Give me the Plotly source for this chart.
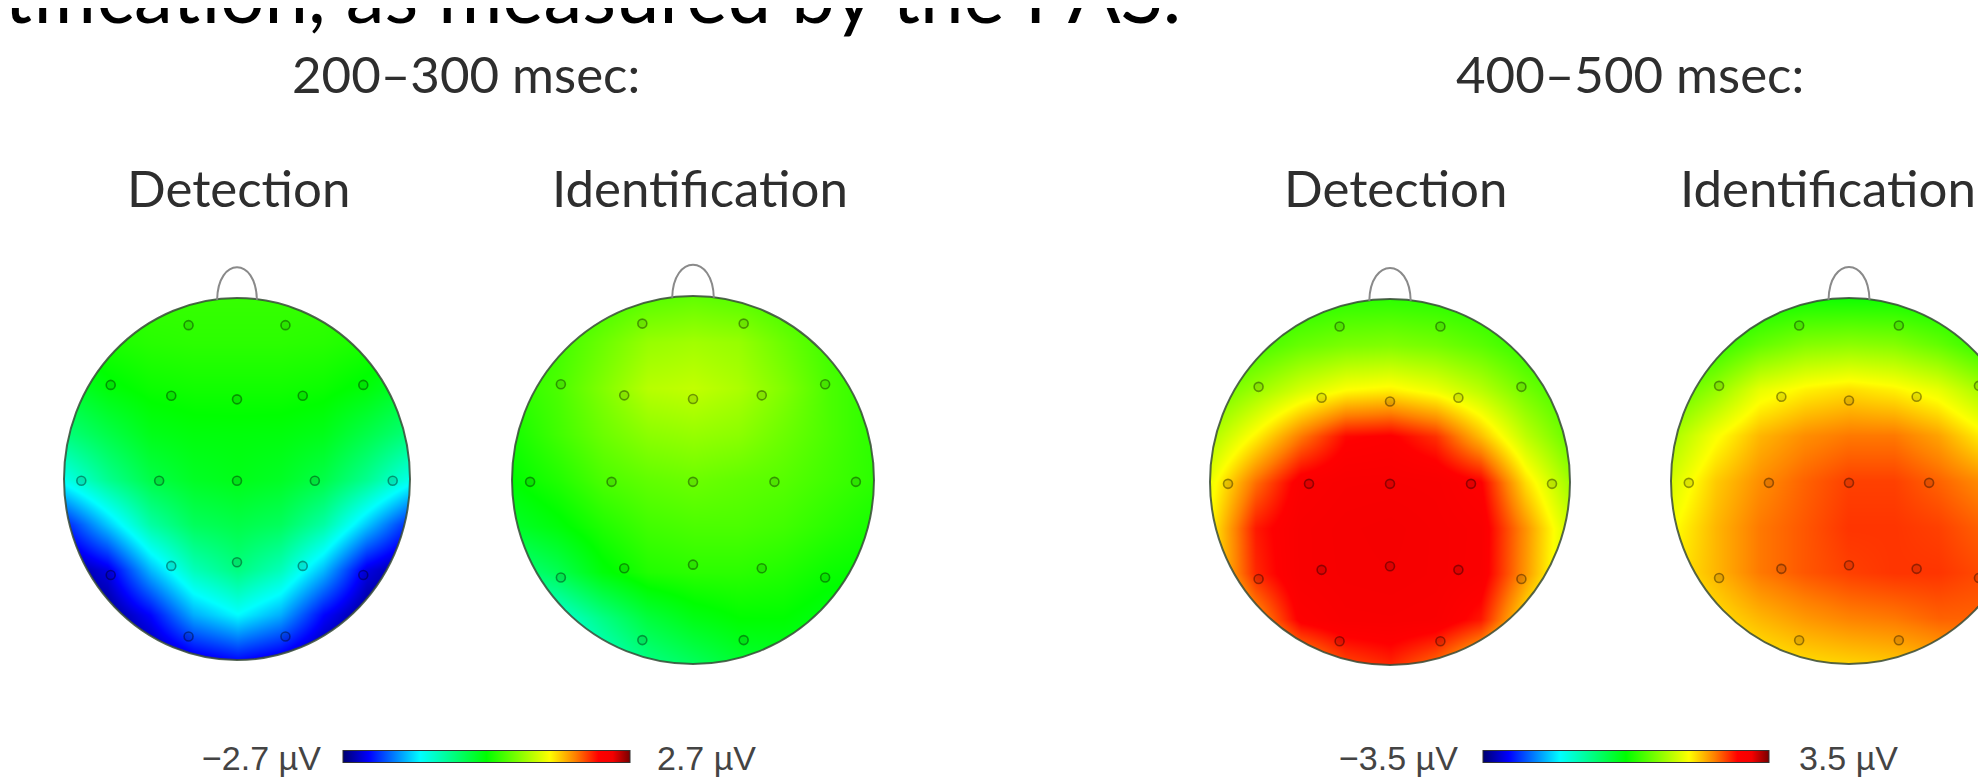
import math
import plotly.graph_objects as go

# ---------------- data ----------------
TITLE_TOP = "tification, as measured by the PAS."
WINDOWS = ["200–300 msec:", "400–500 msec:"]
CONDITIONS = ["Detection", "Identification"]
LIMITS = [2.7, 3.5]
CBAR_LABELS = [["−2.7 µV", "2.7 µV"], ["−3.5 µV", "3.5 µV"]]

# interpolation grid of the scalp map (head-normalised units), rows listed top -> bottom
GRID_X = [-1.0, -0.75, -0.5, -0.25, 0.0, 0.25, 0.5, 0.75, 1.0]
GRID_Y = [1.0, 0.75, 0.5, 0.25, 0.0, -0.25, -0.5, -0.75, -1.0]

# µV values, 200–300 msec, Detection
DET_200_300 = [
    [0.15, 0.20, 0.25, 0.25, 0.25, 0.25, 0.25, 0.20, 0.15],
    [0.05, 0.12, 0.18, 0.20, 0.20, 0.20, 0.18, 0.12, 0.05],
    [-0.25, -0.05, 0.05, 0.08, 0.08, 0.08, 0.05, -0.05, -0.25],
    [-0.60, -0.35, -0.12, -0.06, -0.05, -0.06, -0.12, -0.35, -0.60],
    [-1.15, -0.70, -0.35, -0.18, -0.12, -0.18, -0.35, -0.70, -1.15],
    [-2.10, -1.45, -0.80, -0.45, -0.35, -0.45, -0.80, -1.45, -2.10],
    [-2.60, -2.30, -1.50, -0.90, -0.62, -0.90, -1.50, -2.30, -2.60],
    [-2.70, -2.60, -2.20, -1.55, -1.25, -1.55, -2.20, -2.60, -2.70],
    [-2.70, -2.70, -2.60, -2.35, -2.20, -2.35, -2.60, -2.70, -2.70],
]
# µV values, 200–300 msec, Identification
IDE_200_300 = [
    [0.10, 0.20, 0.30, 0.40, 0.45, 0.40, 0.30, 0.20, 0.10],
    [0.15, 0.30, 0.50, 0.70, 0.75, 0.70, 0.50, 0.30, 0.15],
    [0.20, 0.35, 0.60, 0.85, 0.90, 0.80, 0.60, 0.35, 0.20],
    [0.10, 0.30, 0.50, 0.65, 0.70, 0.65, 0.50, 0.35, 0.20],
    [0.00, 0.15, 0.35, 0.45, 0.50, 0.45, 0.40, 0.30, 0.20],
    [-0.20, -0.05, 0.15, 0.30, 0.35, 0.35, 0.30, 0.20, 0.10],
    [-0.65, -0.40, -0.05, 0.15, 0.20, 0.20, 0.15, 0.05, 0.00],
    [-1.25, -1.05, -0.65, -0.30, -0.10, 0.00, 0.00, -0.10, -0.10],
    [-1.50, -1.35, -1.00, -0.65, -0.45, -0.25, -0.20, -0.20, -0.20],
]
# µV values, 400–500 msec, Detection
DET_400_500 = [
    [0.06, 0.12, 0.20, 0.27, 0.28, 0.25, 0.18, 0.10, 0.04],
    [0.22, 0.42, 0.63, 0.75, 0.79, 0.71, 0.55, 0.32, 0.16],
    [0.60, 0.95, 1.30, 1.55, 1.62, 1.45, 1.13, 0.70, 0.35],
    [1.05, 1.60, 2.20, 2.70, 2.76, 2.52, 1.87, 1.15, 0.60],
    [1.45, 2.25, 2.84, 2.93, 2.94, 2.92, 2.75, 1.70, 0.95],
    [1.60, 2.62, 2.92, 2.99, 3.02, 2.96, 2.88, 2.08, 1.21],
    [1.62, 2.56, 2.92, 2.98, 3.00, 2.96, 2.87, 2.05, 1.19],
    [1.40, 2.05, 2.79, 2.92, 2.93, 2.90, 2.63, 1.66, 1.00],
    [0.95, 1.45, 1.95, 2.41, 2.56, 2.25, 1.71, 1.17, 0.66],
]
# µV values, 400–500 msec, Identification
IDE_400_500 = [
    [0.00, 0.00, 0.05, 0.10, 0.10, 0.10, 0.05, 0.00, 0.00],
    [0.10, 0.30, 0.60, 0.80, 0.85, 0.80, 0.60, 0.30, 0.10],
    [0.50, 0.90, 1.40, 1.60, 1.70, 1.60, 1.40, 1.00, 0.60],
    [1.00, 1.50, 1.90, 2.10, 2.20, 2.20, 2.00, 1.60, 1.20],
    [1.30, 1.80, 2.10, 2.30, 2.45, 2.45, 2.30, 2.10, 1.70],
    [1.50, 1.90, 2.20, 2.35, 2.50, 2.50, 2.45, 2.30, 2.00],
    [1.60, 1.90, 2.20, 2.35, 2.45, 2.50, 2.50, 2.40, 2.20],
    [1.50, 1.70, 1.90, 2.05, 2.15, 2.20, 2.30, 2.30, 2.10],
    [1.40, 1.50, 1.60, 1.70, 1.75, 1.80, 1.90, 2.00, 2.00],
]
MAPS = [DET_200_300, IDE_200_300, DET_400_500, IDE_400_500]

# 10-20 electrode sites (head-normalised units)
ELECTRODES = ["Fp1", "Fp2", "F7", "F3", "Fz", "F4", "F8", "T7", "C3", "Cz", "C4", "T8",
              "P7", "P3", "Pz", "P4", "P8", "O1", "O2"]
ELEC_X = [-0.28, 0.28, -0.73, -0.38, 0.0, 0.38, 0.73, -0.90, -0.45, 0.0, 0.45, 0.90,
          -0.73, -0.38, 0.0, 0.38, 0.73, -0.28, 0.28]
ELEC_Y = [0.85, 0.85, 0.52, 0.46, 0.44, 0.46, 0.52, -0.01, -0.01, -0.01, -0.01, -0.01,
          -0.53, -0.48, -0.46, -0.48, -0.53, -0.87, -0.87]

# ---------------- layout geometry (pixels) ----------------
W, H = 1986, 784
HEAD_CX = [229, 685, 1382, 1841]
HEAD_CY = [471, 472, 474, 473]
HEAD_RX = [173, 181, 180, 178]
HEAD_RY = [181, 184, 183, 183]
COND_X = [230, 692, 1387, 1820]
WIN_X = [458, 1622]
CBAR_X = [478, 1618]
CBAR_LEN = [287, 286]
LAB_LEFT_R = [315, 1452]
LAB_RIGHT_L = [647, 1789]

COLORSCALE = [
    [0.00, "#000070"], [0.09, "#0000ff"], [0.27, "#00ffff"], [0.50, "#00ff00"],
    [0.72, "#ffff00"], [0.81, "#ff8000"], [0.89, "#ff0000"], [0.94, "#f40000"],
    [1.00, "#780000"],
]

fig = go.Figure()
shapes = []
annotations = []

# unit circle polygon (the head ellipse in head units) for the outside mask
n = 96
circle_pts = [(math.cos(2 * math.pi * k / n), math.sin(2 * math.pi * k / n)) for k in range(n)]
mask_path = "M -1.6,-1.6 L 1.6,-1.6 L 1.6,1.6 L -1.6,1.6 Z M " + " L ".join(
    f"{x:.4f},{y:.4f}" for x, y in circle_pts) + " Z"

TITLE_FONT = dict(family="Lato", size=51, color="#2e2e2e")
LABEL_FONT = dict(family="Liberation Sans", size=34, color="#444444")

for i in range(4):
    cx, cy, rx, ry = HEAD_CX[i], HEAD_CY[i], HEAD_RX[i], HEAD_RY[i]
    L = max(0, cx - 1.3 * rx)
    R = min(W, cx + 1.3 * rx)
    T = cy - 1.3 * ry
    B = cy + 1.3 * ry
    ax = "" if i == 0 else str(i + 1)
    fig.update_layout(**{
        f"xaxis{ax}": dict(domain=[L / W, R / W], range=[(L - cx) / rx, (R - cx) / rx],
                           visible=False, fixedrange=True),
        f"yaxis{ax}": dict(domain=[1 - B / H, 1 - T / H], range=[(cy - B) / ry, (cy - T) / ry],
                           visible=False, fixedrange=True),
    })
    rows = MAPS[i]
    fig.add_trace(go.Heatmap(
        x=GRID_X, y=list(reversed(GRID_Y)), z=list(reversed(rows)),
        zsmooth="best", coloraxis="coloraxis" if i < 2 else "coloraxis2",
        xaxis=f"x{ax}", yaxis=f"y{ax}", hoverinfo="skip",
    ))
    fig.add_trace(go.Scatter(
        x=ELEC_X, y=ELEC_Y, mode="markers", text=ELECTRODES,
        marker=dict(size=9, color="rgba(0,0,0,0.10)",
                    line=dict(color="rgba(0,0,0,0.38)", width=1.6)),
        xaxis=f"x{ax}", yaxis=f"y{ax}", showlegend=False, hoverinfo="text",
    ))
    xr, yr = f"x{ax}", f"y{ax}"
    shapes.append(dict(type="path", path=mask_path, xref=xr, yref=yr, fillcolor="white",
                       fillrule="evenodd", line=dict(width=0), layer="above"))
    shapes.append(dict(type="circle", x0=-1, x1=1, y0=-1, y1=1, xref=xr, yref=yr,
                       line=dict(color="rgba(55,75,55,0.85)", width=2), layer="above"))
    shapes.append(dict(type="path", xref=xr, yref=yr,
                       path="M -0.115,0.99 C -0.11,1.23 0.11,1.23 0.115,0.99",
                       line=dict(color="#8a8a8a", width=2), layer="above"))
    annotations.append(dict(text=CONDITIONS[i % 2], x=COND_X[i] / W, y=1 - 180 / H,
                            xref="paper", yref="paper", xanchor="center", yanchor="middle",
                            showarrow=False, font=TITLE_FONT))

for g in range(2):
    annotations.append(dict(text=WINDOWS[g], x=WIN_X[g] / W, y=1 - 66 / H,
                            xref="paper", yref="paper", xanchor="center", yanchor="middle",
                            showarrow=False, font=TITLE_FONT))
    annotations.append(dict(text=CBAR_LABELS[g][0], x=LAB_LEFT_R[g] / W, y=1 - 750 / H,
                            xref="paper", yref="paper", xanchor="right", yanchor="middle",
                            showarrow=False, font=LABEL_FONT))
    annotations.append(dict(text=CBAR_LABELS[g][1], x=LAB_RIGHT_L[g] / W, y=1 - 750 / H,
                            xref="paper", yref="paper", xanchor="left", yanchor="middle",
                            showarrow=False, font=LABEL_FONT))

annotations.append(dict(text=TITLE_TOP, x=-6 / W, y=1 + 15 / H, xref="paper", yref="paper",
                        xanchor="left", yanchor="middle", showarrow=False,
                        font=dict(family="Lato", size=78, color="#000000")))


def cbar(g):
    return dict(orientation="h", x=CBAR_X[g] / W, xanchor="center", y=1 - 749 / H,
                yanchor="middle", len=CBAR_LEN[g], lenmode="pixels", thickness=12,
                thicknessmode="pixels", showticklabels=False, ticks="", outlinewidth=1,
                outlinecolor="#333333", xpad=0, ypad=0)


fig.update_layout(
    width=W, height=H, margin=dict(l=0, r=0, t=0, b=0),
    paper_bgcolor="white", plot_bgcolor="rgba(0,0,0,0)", showlegend=False,
    coloraxis=dict(cmin=-LIMITS[0], cmax=LIMITS[0], colorscale=COLORSCALE, colorbar=cbar(0)),
    coloraxis2=dict(cmin=-LIMITS[1], cmax=LIMITS[1], colorscale=COLORSCALE, colorbar=cbar(1)),
    shapes=shapes, annotations=annotations,
)

fig.write_html("out.html")
